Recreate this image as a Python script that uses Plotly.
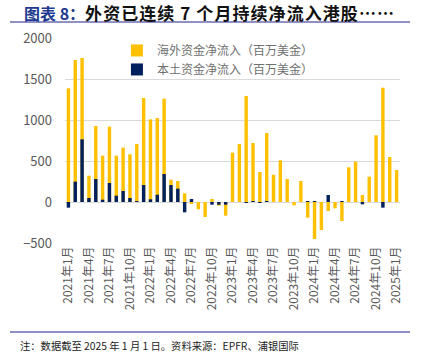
import plotly.graph_objects as go

months = [f"{y}年{m}月" for y in range(2021, 2025) for m in range(1, 13)] + ["2025年1月"]

overseas = [1386, 1732, 1756, 321, 927, 565, 919, 565, 663, 581, 707, 1268,
            1008, 1024, 1260, 272, 256, 106, -24, -89, -183, 37, -45, -167,
            602, 707, 1293, 720, 366, 841, 333, 508, 280, -41, 256, -191,
            -451, -341, -110, -77, -232, 423, 492, 85, 309, 813, 1394, 549, 390]
domestic = [-69, 248, 764, 49, 280, 28, 232, 77, 134, 49, 8, 207,
            33, 89, 341, 207, 163, -126, 37, 0, 0, -33, -33, -33,
            0, 0, -8, 8, -12, 8, 0, 0, 0, 0, 0, 4,
            4, 0, 85, 0, 8, 0, 0, -28, 0, 0, -69, 0, 0]

tick_idx = list(range(0, len(months), 3))
tick_text = [months[i] for i in tick_idx]
y_ticks = [-500, 0, 500, 1000, 1500, 2000]

title_head = "图表 8："
title_body = "外资已连续 7 个月持续净流入港股……"
footnote = "注：数据截至 2025 年 1 月 1 日。资料来源：EPFR、浦银国际"

x = list(range(len(months)))
font = "Noto Sans CJK SC"

fig = go.Figure()
fig.add_trace(go.Bar(x=x, y=overseas, name="海外资金净流入（百万美金）",
                     marker=dict(color="#FFC000", line=dict(width=0)), width=0.5))
fig.add_trace(go.Bar(x=x, y=domestic, name="本土资金净流入（百万美金）",
                     marker=dict(color="#002060", line=dict(width=0)), width=0.5))

fig.update_layout(
    width=421, height=361,
    barmode="overlay",
    paper_bgcolor="white", plot_bgcolor="white",
    margin=dict(l=65, r=21, t=38, b=118),
    font=dict(family=font, color="#595959"),
    showlegend=True,
    legend=dict(x=0.155, y=1.01, xanchor="left", yanchor="top",
                bgcolor="rgba(0,0,0,0)", font=dict(size=12, color="#707070"),
                itemwidth=30, tracegroupgap=0),
    xaxis=dict(range=[-0.5, len(months) - 0.5], tickmode="array",
               tickvals=tick_idx, ticktext=tick_text, tickangle=-90,
               tickfont=dict(size=12, color="#595959"), showgrid=False,
               zeroline=False, showline=False, ticks=""),
    yaxis=dict(range=[-500, 2000], tickvals=y_ticks, showgrid=True,
               gridcolor="#d9d9d9", gridwidth=1, zeroline=True,
               zerolinecolor="#d9d9d9", zerolinewidth=1,
               tickfont=dict(size=13, color="#595959"), ticks="", ticklabelstandoff=12),
)

spaced_body = "\u200a".join(list(title_body))
fig.add_annotation(xref="paper", yref="y domain", x=-43 / 335, y=1 + 25 / 205,
                   xanchor="left", yanchor="middle", showarrow=False,
                   text=f"<b><span style='color:#203a8f'>{title_head}</span><span style='font-size:17px'>{spaced_body}</span></b>",
                   font=dict(size=16, color="#111111", family=font))
fig.add_shape(type="line", xref="paper", yref="y domain", x0=-55 / 335, x1=1.03,
              y0=1 + 16 / 205, y1=1 + 16 / 205, line=dict(color="#6b6bb0", width=1.5))
fig.add_shape(type="line", xref="paper", yref="y domain", x0=-55 / 335, x1=1.03,
              y0=-89 / 205, y1=-89 / 205, line=dict(color="#6b6bb0", width=1.5))
fig.add_annotation(xref="paper", yref="y domain", x=-47 / 335, y=-102 / 205,
                   xanchor="left", yanchor="middle", showarrow=False,
                   text=footnote,
                   font=dict(size=10.3, color="#222222", family=font))

fig.write_html("out.html", config={"displayModeBar": False},
               post_script="document.body.style.margin='0';")
